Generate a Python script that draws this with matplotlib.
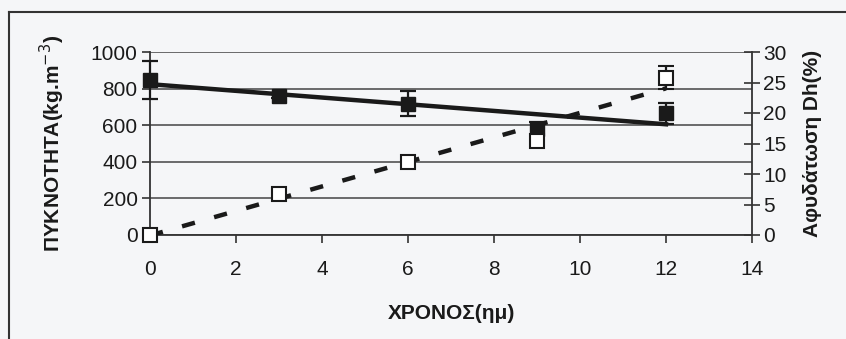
import numpy as np
import matplotlib
matplotlib.use("Agg")
import matplotlib.pyplot as plt
from matplotlib.lines import Line2D

days = [0, 3, 6, 9, 12]
density = [848, 762, 718, 580, 665]
density_err = [104, 15, 70, 40, 58]
dehydration = [0.0, 6.7, 12.0, 15.4, 25.8]
dehydration_err = [0.3, 0.4, 0.3, 0.8, 1.9]

x_ticks = [0, 2, 4, 6, 8, 10, 12, 14]
left_ticks = [0, 200, 400, 600, 800, 1000]
right_ticks = [0, 5, 10, 15, 20, 25, 30]

ink = "#1a1a1a"
bg = "#f5f6f8"
plt.rcParams['font.family'] = ['Liberation Sans', 'DejaVu Sans']

fig = plt.figure(figsize=(8.46, 3.39), dpi=100, facecolor=bg)
ax = fig.add_axes([150 / 846, 1 - 235 / 339, 602 / 846, 183 / 339])
ax.set_facecolor(bg)
ax2 = ax.twinx()

# scan frame (top and left edge only)
fig.add_artist(Line2D([9 / 846, 1], [1 - 12 / 339, 1 - 12 / 339], color="#333", lw=1.5))
fig.add_artist(Line2D([9 / 846, 9 / 846], [0, 1 - 12 / 339], color="#333", lw=1.5))

# linear trend lines
fit_d = np.polyfit(days, density, 1)
fit_h = np.polyfit(days, dehydration, 1)
xs = np.array([days[0], days[-1]])

ax.plot(xs, np.polyval(fit_d, xs), color=ink, lw=3.2, zorder=3)
ax.errorbar(days, density, yerr=density_err, fmt="s", color=ink, ms=10.5,
            mfc=ink, mec=ink, ecolor=ink, elinewidth=1.6, capsize=6,
            capthick=1.6, zorder=4, clip_on=False)

ax2.plot(xs, np.polyval(fit_h, xs), color=ink, lw=3.2, dashes=(3, 4.5), zorder=3)
ax2.errorbar(days, dehydration, yerr=dehydration_err, fmt="s", color=ink, ms=10.5,
             mfc="white", mec=ink, mew=1.5, ecolor=ink, elinewidth=1.6,
             capsize=6, capthick=1.6, zorder=4, clip_on=False)

ax.set_xlim(0, 14)
ax.set_ylim(0, 1000)
ax2.set_ylim(0, 30)
ax.set_xticks(x_ticks)
ax.set_yticks(left_ticks)
ax2.set_yticks(right_ticks)

ax.yaxis.grid(True, color="#444", lw=1.1)
ax.set_axisbelow(True)

for a in (ax, ax2):
    for s in a.spines.values():
        s.set_visible(False)
ax.spines["left"].set_visible(True)
ax.spines["bottom"].set_visible(True)
ax2.spines["right"].set_visible(True)
for s in (ax.spines["left"], ax.spines["bottom"], ax2.spines["right"]):
    s.set_color("#333")
    s.set_linewidth(1.3)

ax.tick_params(axis="x", direction="out", length=6, width=1.2, color="#333",
               labelsize=15, labelcolor=ink, pad=12)
ax.tick_params(axis="y", direction="out", length=6, width=1.2, color="#333",
               labelsize=15, labelcolor=ink, pad=3)
ax2.tick_params(axis="y", direction="inout", length=12, width=1.2, color="#333",
                labelsize=15, labelcolor=ink, pad=2)

ax.set_xlabel("ΧΡΟΝΟΣ(ημ)", fontsize=15, fontweight="bold", color=ink, labelpad=18)
ax.set_ylabel("ΠΥΚΝΟΤΗΤΑ(kg.m$^{-3}$)", fontsize=15, fontweight="bold",
              color=ink, labelpad=17)
ax2.set_ylabel("Αφυδάτωση Dh(%)", fontsize=15, fontweight="bold", color=ink,
               labelpad=12)

fig.savefig("out.png", dpi=100, facecolor=bg)
